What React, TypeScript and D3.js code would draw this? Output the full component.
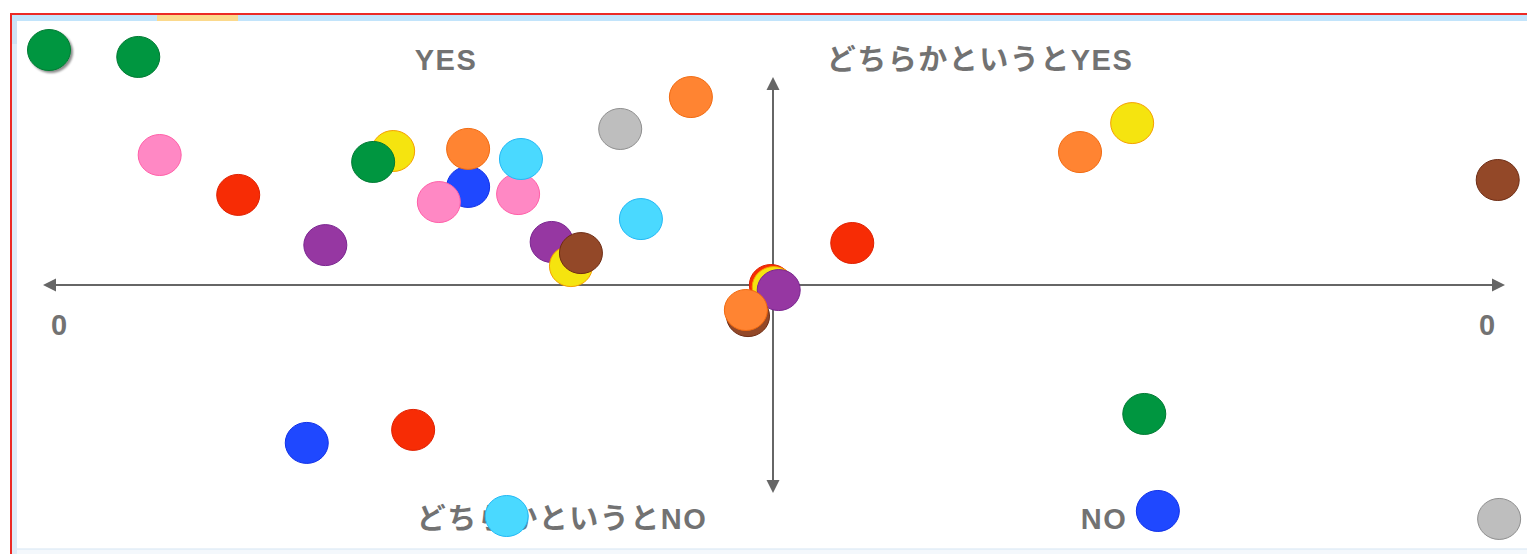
import { useEffect, useRef } from 'react';
import * as d3 from 'd3';

// bubble positions (-100..100 on both axes) and their colour group
const xValues = [-101.4, -88.9, -85.9, -74.9, -62.7, -53.2, -56.0, -42.7, -42.7, -46.8, -35.7, -35.3,
  -21.4, -11.5, -18.5, -31.0, -28.3, -26.9, -0.3, 0.1, 0.8, -3.5, -3.8, 11.1, 43.0, 50.3, 101.5,
  52.0, 53.9, 101.7, -65.3, -50.4, -37.3];
const yValues = [111.9, 108.6, 61.9, 42.9, 19.0, 63.8, 58.6, 46.7, 64.8, 39.5, 43.3, 60.0,
  74.3, 89.5, 31.4, 20.5, 9.0, 15.2, 0, -1.0, -2.4, -14.8, -11.9, 20.0, 63.3, 77.1, 50.0,
  -61.4, -107.6, -111.4, -75.2, -69.0, -110.0];
const groups = ['green', 'green', 'pink', 'red', 'purple', 'yellow', 'green', 'blue', 'orange', 'pink', 'pink', 'cyan',
  'gray', 'orange', 'cyan', 'purple', 'yellow', 'brown', 'red', 'yellow', 'purple', 'brown', 'orange', 'red', 'orange', 'yellow', 'brown',
  'green', 'blue', 'gray', 'blue', 'red', 'cyan'];

const quadrantLabels = ['YES', 'どちらかというとYES', 'どちらかというとNO', 'NO'];
const tickLabels = ['0', '0'];

const palette: Record<string, { fill: string; stroke: string }> = {
  green: { fill: '#009640', stroke: '#007a33' },
  pink: { fill: '#ff88c4', stroke: '#ff5fa8' },
  red: { fill: '#f72c05', stroke: '#e02000' },
  purple: { fill: '#9637a2', stroke: '#7a2590' },
  yellow: { fill: '#f5e40f', stroke: '#f5a000' },
  orange: { fill: '#ff8432', stroke: '#f26a10' },
  blue: { fill: '#1f48ff', stroke: '#1030e8' },
  cyan: { fill: '#4ad9ff', stroke: '#22b8f5' },
  gray: { fill: '#bebebe', stroke: '#8f8f8f' },
  brown: { fill: '#934828', stroke: '#6e2c14' },
};

export default function App() {
  const svgRef = useRef<SVGSVGElement>(null);

  useEffect(() => {
    if (!svgRef.current) return;
    const width = 1527;
    const height = 554;
    const svg = d3.select(svgRef.current);
    svg.selectAll('*').remove();
    svg.attr('width', width).attr('height', height);

    const x = d3.scaleLinear().domain([-100, 100]).range([59, 1487]);
    const y = d3.scaleLinear().domain([-100, 100]).range([495, 75]);
    const cx = x(0);
    const cy = y(0);

    // frame
    svg.append('rect').attr('x', 0).attr('y', 0).attr('width', width).attr('height', height).attr('fill', '#fff');
    svg.append('rect').attr('x', 10).attr('y', 13).attr('width', width - 10).attr('height', 2).attr('fill', '#ec2a25');
    svg.append('rect').attr('x', 10).attr('y', 13).attr('width', 2).attr('height', height - 13).attr('fill', '#ec2a25');
    svg.append('rect').attr('x', 12).attr('y', 15).attr('width', width - 12).attr('height', 6).attr('fill', '#c2e4fb');
    svg.append('rect').attr('x', 157).attr('y', 15).attr('width', 81).attr('height', 6).attr('fill', '#fbd98c');
    svg.append('rect').attr('x', 12).attr('y', 21).attr('width', 5).attr('height', height - 21).attr('fill', '#dfebf7');
    svg.append('rect').attr('x', 12).attr('y', 21).attr('width', 5).attr('height', 23).attr('fill', '#cfe2f4');
    svg.append('rect').attr('x', 17).attr('y', 549).attr('width', width - 17).attr('height', 5).attr('fill', '#f4f8fc');
    svg.append('rect').attr('x', 17).attr('y', 548.5).attr('width', width - 17).attr('height', 1).attr('fill', '#d6e5f4');

    const defs = svg.append('defs');
    const shadow = defs.append('filter').attr('id', 'shadow').attr('x', '-30%').attr('y', '-30%').attr('width', '160%').attr('height', '160%');
    shadow.append('feDropShadow').attr('dx', 2).attr('dy', 2).attr('stdDeviation', 1.2)
      .attr('flood-color', '#000').attr('flood-opacity', 0.45);

    // axes with arrow heads
    const axisColor = '#666';
    const axes = svg.append('g');
    axes.append('line').attr('x1', 50).attr('x2', 1498).attr('y1', cy).attr('y2', cy)
      .attr('stroke', axisColor).attr('stroke-width', 2);
    axes.append('line').attr('x1', cx).attr('x2', cx).attr('y1', 85).attr('y2', 485)
      .attr('stroke', axisColor).attr('stroke-width', 2);
    const head = (pts: [number, number][]) =>
      axes.append('polygon').attr('points', pts.map(p => p.join(',')).join(' ')).attr('fill', axisColor);
    head([[43, cy], [56, cy - 6.5], [56, cy + 6.5]]);
    head([[1505, cy], [1492, cy - 6.5], [1492, cy + 6.5]]);
    head([[cx, 77], [cx - 6.5, 90], [cx + 6.5, 90]]);
    head([[cx, 493], [cx - 6.5, 480], [cx + 6.5, 480]]);

    const font = '"Liberation Sans", "Noto Sans CJK JP", sans-serif';
    const textColor = '#727272';

    // end ticks
    svg.selectAll('.tick-label')
      .data(tickLabels)
      .enter()
      .append('text')
      .attr('class', 'tick-label')
      .attr('x', (d, i) => x(i === 0 ? -100 : 100))
      .attr('y', 335)
      .attr('text-anchor', 'middle')
      .attr('font-family', font)
      .attr('font-size', '29px')
      .attr('font-weight', 700)
      .attr('fill', textColor)
      .text(d => d);

    // quadrant labels
    const labelPos: [number, number][] = [[446, 70], [980, 70], [562, 529], [1104, 529]];
    svg.selectAll('.quad-label')
      .data(quadrantLabels)
      .enter()
      .append('text')
      .attr('class', 'quad-label')
      .attr('x', (d, i) => labelPos[i][0])
      .attr('y', (d, i) => labelPos[i][1])
      .attr('text-anchor', 'middle')
      .attr('font-family', font)
      .attr('font-size', '29px')
      .attr('font-weight', 700)
      .attr('letter-spacing', 1.5)
      .attr('fill', textColor)
      .text(d => d);

    // bubbles
    const points = xValues.map((v, i) => ({ x: v, y: yValues[i], group: groups[i] }));
    svg.append('g')
      .selectAll('ellipse')
      .data(points)
      .enter()
      .append('ellipse')
      .attr('cx', d => x(d.x))
      .attr('cy', d => y(d.y))
      .attr('rx', 21.5)
      .attr('ry', 20.5)
      .attr('fill', d => palette[d.group].fill)
      .attr('stroke', d => palette[d.group].stroke)
      .attr('stroke-width', 1)
      .attr('filter', (d, i) => (i === 0 ? 'url(#shadow)' : null));
  }, []);

  return (
    <svg ref={svgRef} style={{ position: 'absolute', left: 0, top: 0, display: 'block' }}></svg>
  );
}
